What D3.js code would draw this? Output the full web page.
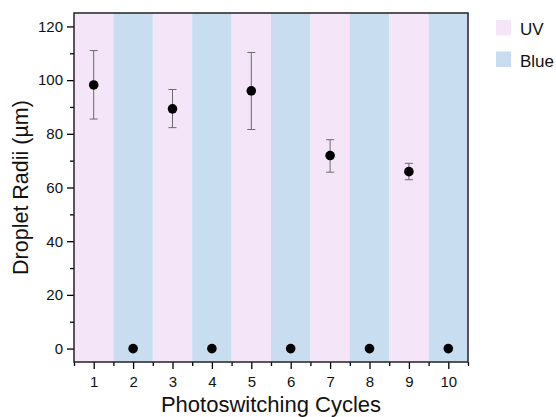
<!DOCTYPE html>
<html>
<head>
<meta charset="utf-8">
<script src="https://cdn.jsdelivr.net/npm/d3@7"></script>
<style>
  html, body { margin: 0; padding: 0; background: #fff; }
  svg { display: block; font-family: "Liberation Sans", Arial, sans-serif; }
</style>
</head>
<body>
<svg id="chart" width="556" height="417"></svg>
<script>
// Photoswitching cycles and measured droplet radii (µm)
const cycles = [1, 2, 3, 4, 5, 6, 7, 8, 9, 10];
const light = ["UV", "Blue", "UV", "Blue", "UV", "Blue", "UV", "Blue", "UV", "Blue"];
const radius = [98.2, 0, 89.3, 0, 96.0, 0, 71.9, 0, 65.9, 0];
const errUpper = [111.0, null, 96.5, null, 110.3, null, 77.8, null, 69.0, null];
const errLower = [85.5, null, 82.3, null, 81.6, null, 65.7, null, 62.9, null];
const yTicks = [0, 20, 40, 60, 80, 100, 120];
const legendItems = ["UV", "Blue"];

const colors = { UV: "#f4e5f8", Blue: "#c8ddf0" };

const svg = d3.select("#chart");
const margin = { left: 74, top: 13, right: 88, bottom: 55 };
const W = 556, H = 417;
const plotW = W - margin.left - margin.right;
const plotH = H - margin.top - margin.bottom;

const x = d3.scaleLinear().domain([0.5, 10.5]).range([0, plotW]);
const y = d3.scaleLinear().domain([-5, 125]).range([plotH, 0]);

const g = svg.append("g").attr("transform", `translate(${margin.left},${margin.top})`);

// Alternating illumination bands
g.selectAll("rect.band")
  .data(cycles)
  .join("rect")
  .attr("class", "band")
  .attr("x", d => x(d - 0.5))
  .attr("y", 0)
  .attr("width", d => x(d + 0.5) - x(d - 0.5))
  .attr("height", plotH)
  .attr("fill", (d, i) => colors[light[i]]);

// Error bars
const pts = cycles.map((c, i) => ({ c, r: radius[i], hi: errUpper[i], lo: errLower[i] }));
const withErr = pts.filter(d => d.hi != null);
const errColor = "#6b6b6b";
const capHalf = 4;
g.selectAll("line.err")
  .data(withErr)
  .join("line")
  .attr("x1", d => x(d.c)).attr("x2", d => x(d.c))
  .attr("y1", d => y(d.hi)).attr("y2", d => y(d.lo))
  .attr("stroke", errColor).attr("stroke-width", 1);
g.selectAll("line.capHi")
  .data(withErr)
  .join("line")
  .attr("x1", d => x(d.c) - capHalf).attr("x2", d => x(d.c) + capHalf)
  .attr("y1", d => y(d.hi)).attr("y2", d => y(d.hi))
  .attr("stroke", errColor).attr("stroke-width", 1);
g.selectAll("line.capLo")
  .data(withErr)
  .join("line")
  .attr("x1", d => x(d.c) - capHalf).attr("x2", d => x(d.c) + capHalf)
  .attr("y1", d => y(d.lo)).attr("y2", d => y(d.lo))
  .attr("stroke", errColor).attr("stroke-width", 1);

// Mean radius markers
g.selectAll("circle.pt")
  .data(pts)
  .join("circle")
  .attr("cx", d => x(d.c))
  .attr("cy", d => y(d.r))
  .attr("r", 4.8)
  .attr("fill", "#000");

// Axes
const tickFont = 15;
const xAxis = d3.axisBottom(x).tickValues(cycles).tickFormat(d3.format("d")).tickSize(7).tickPadding(7);
const xMinor = d3.axisBottom(x).tickValues(d3.range(0.5, 11, 1)).tickFormat("").tickSize(4);
const yAxis = d3.axisLeft(y).tickValues(yTicks).tickSize(7).tickPadding(4);
const yMinor = d3.axisLeft(y).tickValues(d3.range(10, 121, 20)).tickFormat("").tickSize(4);

function styleAxis(sel) {
  sel.select(".domain").remove();
  sel.selectAll("line").attr("stroke", "#000").attr("stroke-width", 1.3);
  sel.selectAll("text").attr("fill", "#111").style("font-size", tickFont + "px")
    .style("font-family", '"Liberation Sans", Arial, sans-serif');
}

g.append("g").attr("transform", `translate(0,${plotH})`).call(xAxis).call(styleAxis);
g.append("g").attr("transform", `translate(0,${plotH})`).call(xMinor).call(styleAxis);
g.append("g").call(yAxis).call(styleAxis);
g.append("g").call(yMinor).call(styleAxis);

// Plot frame
g.append("rect")
  .attr("x", 0).attr("y", 0)
  .attr("width", plotW).attr("height", plotH)
  .attr("fill", "none").attr("stroke", "#222").attr("stroke-width", 1.5);

// Axis titles
svg.append("text")
  .attr("x", margin.left + plotW / 2)
  .attr("y", 412)
  .attr("text-anchor", "middle")
  .style("font-size", "22px")
  .attr("fill", "#111")
  .text("Photoswitching Cycles");

svg.append("text")
  .attr("transform", `translate(28,${margin.top + plotH / 2}) rotate(-90)`)
  .attr("text-anchor", "middle")
  .style("font-size", "21.5px")
  .attr("fill", "#111")
  .text("Droplet Radii (µm)");

// Legend
const legend = svg.append("g").attr("transform", "translate(496,20)");
const li = legend.selectAll("g")
  .data(legendItems)
  .join("g")
  .attr("transform", (d, i) => `translate(0,${i * 31.5})`);
li.append("rect")
  .attr("width", 15).attr("height", 15.5)
  .attr("fill", d => colors[d]);
li.append("text")
  .attr("x", 24).attr("y", 15)
  .style("font-size", "17px")
  .attr("fill", "#111")
  .text(d => d);
</script>
</body>
</html>
